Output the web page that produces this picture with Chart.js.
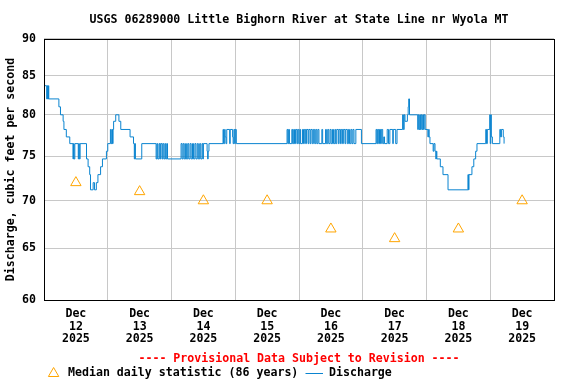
<!DOCTYPE html>
<html>
<head>
<meta charset="utf-8">
<script src="https://cdn.jsdelivr.net/npm/chart.js@4"></script>
<style>
  html, body { margin: 0; padding: 0; background: #fff; }
</style>
</head>
<body>
<canvas id="myChart" width="576" height="384"></canvas>
<script>
// x is hours since Dec 12 2025 00:00
const dayLabels = ['12', '13', '14', '15', '16', '17', '18', '19'];
const yTicks = [60, 65, 70, 75, 80, 85, 90];

// median daily statistic, plotted at noon
const medianHours = [12, 36, 60, 84, 108, 132, 156, 180];
const medianCfs = [72, 71, 70, 70, 67, 66, 67, 70];

// discharge readings [hour, cfs]
const discharge = [
  [0, 83.7], [1.0, 82.0], [1.3, 83.7], [1.5, 82.0], [1.7, 83.7], [1.8, 82.0], [5.6, 81.0], [6.2, 80.0], [7.2, 79.2], [7.5, 78.2], [8.4, 77.3], [9.7, 76.5],
  [10.9, 74.7], [11.1, 76.5], [11.3, 74.7], [11.6, 76.5], [12.9, 74.7], [13.1, 76.5], [13.3, 74.7], [13.6, 76.5],
  [16.0, 74.7], [16.6, 73.8], [17.2, 72.9], [17.5, 71.2], [18.5, 72.0], [19.0, 71.2], [19.7, 72.0], [20.3, 72.9], [21.3, 73.8], [22.0, 74.7], [23.5, 75.6], [24.0, 76.5],
  [25.0, 78.2], [25.3, 76.5], [25.6, 78.2], [25.8, 76.5], [26.0, 78.2], [26.2, 79.2], [27.0, 80.0], [28.2, 79.2], [28.9, 78.2],
  [32.4, 77.3], [33.7, 76.5], [34.0, 74.7], [34.2, 76.5], [34.4, 74.7], [36.8, 76.5],
  [42.2, 74.7], [42.5, 76.5], [42.8, 74.7], [43.3, 76.5], [43.6, 74.7], [43.9, 76.5], [44.4, 74.7], [44.7, 76.5], [45.1, 74.7], [45.5, 76.5], [45.8, 74.7], [46.2, 76.5], [46.5, 74.7],
  [51.6, 76.5], [52.0, 74.7], [52.4, 76.5], [52.8, 74.7], [53.3, 76.5], [53.6, 74.7], [54.1, 76.5], [54.5, 74.7], [55.0, 76.5], [55.4, 74.7], [55.9, 76.5], [56.3, 74.7],
  [56.8, 76.5], [57.2, 74.7], [57.7, 76.5], [58.1, 74.7], [58.6, 76.5], [59.0, 74.7], [59.5, 76.5], [59.8, 74.7], [60.0, 76.5],
  [61.4, 75.6], [61.6, 74.7], [61.8, 75.6], [62.1, 76.5],
  [67.4, 78.2], [67.6, 76.5], [68.0, 78.2], [68.2, 77.3], [68.5, 76.5], [68.8, 78.2], [69.9, 76.5], [70.1, 78.2], [71.0, 77.3], [71.2, 76.5], [71.5, 78.2], [71.8, 76.5], [72.0, 78.2], [72.4, 76.5],
  [91.5, 78.2], [91.8, 76.5], [92.1, 78.2], [92.4, 76.5],
  [93.3, 78.2], [93.6, 76.5], [94.0, 78.2], [94.3, 76.5], [94.7, 78.2], [95.2, 76.5], [95.5, 78.2], [95.9, 76.5], [96.3, 78.2], [96.6, 76.5],
  [97.3, 78.2], [97.7, 76.5], [98.0, 78.2], [98.5, 76.5], [98.8, 78.2], [99.4, 76.5], [99.7, 78.2], [100.2, 76.5], [100.5, 78.2], [101.0, 76.5],
  [101.4, 78.2], [101.9, 76.5], [102.3, 78.2], [102.7, 76.5], [103.1, 78.2], [103.5, 76.5],
  [104.6, 78.2], [104.9, 76.5], [106.0, 78.2], [106.3, 76.5], [106.8, 78.2], [107.2, 76.5], [107.7, 78.2], [108.1, 76.5], [108.6, 78.2], [109.0, 76.5],
  [109.5, 78.2], [109.8, 76.5], [110.2, 78.2], [110.8, 76.5], [111.1, 78.2], [111.6, 76.5], [111.9, 78.2], [112.4, 76.5], [112.7, 78.2], [113.3, 76.5],
  [113.6, 78.2], [114.2, 76.5], [114.6, 78.2], [115.0, 76.5], [115.5, 78.2], [115.9, 76.5], [116.3, 78.2], [116.7, 76.5], [117.4, 78.2], [119.5, 76.5],
  [125.0, 78.2], [125.3, 76.5], [125.6, 78.2], [126.0, 76.5], [126.3, 78.2], [126.7, 76.5], [127.0, 78.2], [127.5, 76.5], [127.9, 77.3], [128.2, 76.5],
  [129.2, 78.2], [129.7, 76.5], [130.2, 78.2], [131.3, 76.5], [131.5, 78.2], [132.4, 76.5], [132.9, 78.2],
  [135.0, 80.0], [135.3, 78.2], [135.6, 80.0], [135.9, 79.2], [136.8, 80.0], [137.1, 81.0], [137.3, 82.0], [137.6, 80.0],
  [140.7, 78.2], [140.9, 80.0], [141.2, 78.2], [141.5, 80.0], [141.7, 78.2], [142.0, 80.0], [142.3, 78.2], [142.6, 80.0], [142.9, 78.2], [143.1, 80.0], [143.5, 78.2],
  [144.5, 77.3], [144.8, 78.2], [145.0, 77.3], [145.3, 76.5], [146.5, 75.6], [146.8, 76.5], [147.2, 75.6], [147.5, 74.7], [147.7, 75.6], [147.9, 74.7],
  [149.2, 73.8], [150.2, 72.9], [152.1, 71.2],
  [159.6, 72.9], [159.8, 71.2], [160.0, 72.9], [161.1, 73.8], [161.8, 74.7], [162.5, 75.6], [163.0, 76.5],
  [166.3, 78.2], [166.6, 76.5], [166.9, 78.2], [167.8, 80.0], [168.0, 76.5], [168.2, 80.0], [168.4, 77.3], [168.8, 76.5],
  [171.6, 78.2], [171.9, 77.3], [172.2, 78.2], [172.9, 77.3], [173.2, 76.5]
];

const MONO = 'DejaVu Sans Mono';
const font = { family: MONO, size: 11.6, weight: 'bold', lineHeight: 1.12 };
const BLUE = '#0a84d0';
const ORANGE = '#ffa500';

// plot frame + hand drawn legend row
const framePlugin = {
  id: 'frameLegend',
  afterDraw(chart) {
    const { ctx, chartArea: a } = chart;
    ctx.save();
    ctx.strokeStyle = '#000';
    ctx.lineWidth = 1;
    ctx.strokeRect(Math.round(a.left) + 0.5, Math.round(a.top) + 0.5,
      Math.round(a.right - a.left), Math.round(a.bottom - a.top));

    const y = 373;
    // triangle
    ctx.strokeStyle = ORANGE;
    ctx.beginPath();
    ctx.moveTo(53.6, y - 5.5);
    ctx.lineTo(58.8, y + 3.5);
    ctx.lineTo(48.4, y + 3.5);
    ctx.closePath();
    ctx.stroke();
    ctx.fillStyle = '#000';
    ctx.font = 'bold 11.6px "' + MONO + '"';
    ctx.textBaseline = 'middle';
    ctx.fillText('Median daily statistic (86 years)', 68, y);
    ctx.strokeStyle = BLUE;
    ctx.beginPath();
    ctx.moveTo(305.5, y + 0.5);
    ctx.lineTo(323, y + 0.5);
    ctx.stroke();
    ctx.fillText('Discharge', 329, y);
    ctx.restore();
  }
};

document.addEventListener("DOMContentLoaded", function() {
  const ctx = document.getElementById('myChart');

  new Chart(ctx, {
    type: 'line',
    data: {
      datasets: [
        {
          label: 'Discharge',
          data: discharge.map(d => ({ x: d[0], y: d[1] })),
          borderColor: BLUE,
          borderWidth: 1,
          pointRadius: 0,
          stepped: true,
          fill: false
        }, {
          label: 'Median daily statistic (86 years)',
          data: medianHours.map((h, i) => ({ x: h, y: medianCfs[i] })),
          showLine: false,
          pointStyle: 'triangle',
          pointRadius: 6,
          borderColor: ORANGE,
          backgroundColor: 'rgba(0,0,0,0)',
          borderWidth: 1
        }
      ]
    },
    options: {
      responsive: false,
      animation: false,
      devicePixelRatio: 1,
      layout: { padding: { left: 0, right: 22, top: 0, bottom: 19 } },
      scales: {
        x: {
          type: 'linear',
          min: 0,
          max: 192,
          afterFit: s => { s.height = 65; },
          border: { display: false },
          grid: {
            drawTicks: false,
            color: c => (c.tick && c.tick.value % 24 === 0) ? '#c8c8c8' : 'rgba(0,0,0,0)'
          },
          ticks: {
            stepSize: 12,
            autoSkip: false,
            maxRotation: 0,
            padding: 7,
            color: '#000',
            font: font,
            callback: v => v % 24 === 12 ? ['Dec', dayLabels[(v - 12) / 24], '2025'] : ''
          },
          title: {
            display: true,
            text: '---- Provisional Data Subject to Revision ----',
            color: '#ff0000',
            font: font,
            padding: { top: 0, bottom: 0 }
          }
        },
        y: {
          type: 'logarithmic',
          min: 60,
          max: 90,
          afterFit: s => { s.width = 44; },
          afterBuildTicks: s => { s.ticks = yTicks.map(v => ({ value: v })); },
          border: { display: false },
          grid: { drawTicks: false, color: '#c8c8c8' },
          ticks: {
            padding: 8,
            color: '#000',
            font: font,
            callback: v => String(v)
          },
          title: {
            display: true,
            text: 'Discharge, cubic feet per second',
            color: '#000',
            font: font,
            padding: { top: 4.5, bottom: 0 }
          }
        }
      },
      plugins: {
        legend: { display: false },
        tooltip: { enabled: false },
        title: {
          display: true,
          fullSize: false,
          text: 'USGS 06289000 Little Bighorn River at State Line nr Wyola MT',
          color: '#000',
          font: font,
          padding: { top: 13, bottom: 13 }
        }
      }
    },
    plugins: [framePlugin]
  });
});
</script>
</body>
</html>
